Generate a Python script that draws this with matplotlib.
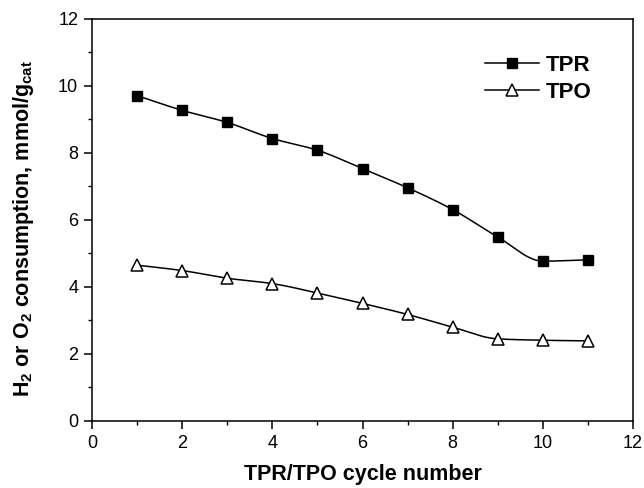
import numpy as np
import matplotlib
matplotlib.use("Agg")
import matplotlib.pyplot as plt
from matplotlib.ticker import MultipleLocator

plt.rcParams['font.family'] = ['Liberation Sans', 'DejaVu Sans']
plt.rcParams['mathtext.fontset'] = 'custom'
plt.rcParams['mathtext.rm'] = 'Liberation Sans:bold'
plt.rcParams['mathtext.it'] = 'Liberation Sans:bold'
plt.rcParams['mathtext.bf'] = 'Liberation Sans:bold'
plt.rcParams['mathtext.default'] = 'rm'

cycles = [1, 2, 3, 4, 5, 6, 7, 8, 9, 10, 11]
tpr = [9.71, 9.27, 8.91, 8.43, 8.08, 7.53, 6.96, 6.31, 5.49, 4.77, 4.81]
tpo = [4.65, 4.49, 4.26, 4.10, 3.82, 3.51, 3.18, 2.80, 2.45, 2.41, 2.39]
x_ticks = [0, 2, 4, 6, 8, 10, 12]
y_ticks = [0, 2, 4, 6, 8, 10, 12]


def pchip_curve(x, y, n=400):
    x = np.asarray(x, float)
    y = np.asarray(y, float)
    h = np.diff(x)
    delta = np.diff(y) / h
    m = len(x)
    d = np.zeros(m)
    for k in range(1, m - 1):
        if delta[k - 1] * delta[k] > 0:
            w1 = 2 * h[k] + h[k - 1]
            w2 = h[k] + 2 * h[k - 1]
            d[k] = (w1 + w2) / (w1 / delta[k - 1] + w2 / delta[k])
    d[0] = delta[0]
    d[-1] = delta[-1]
    xs = np.linspace(x[0], x[-1], n)
    idx = np.clip(np.searchsorted(x, xs) - 1, 0, m - 2)
    t = (xs - x[idx]) / h[idx]
    h00 = 2 * t ** 3 - 3 * t ** 2 + 1
    h10 = t ** 3 - 2 * t ** 2 + t
    h01 = -2 * t ** 3 + 3 * t ** 2
    h11 = t ** 3 - t ** 2
    ys = h00 * y[idx] + h10 * h[idx] * d[idx] + h01 * y[idx + 1] + h11 * h[idx] * d[idx + 1]
    return xs, ys


fig = plt.figure(figsize=(6.44, 4.88), dpi=100)
ax = fig.add_axes([0.1429, 0.1373, 0.840, 0.824])

LW = 1.1
xs, ys = pchip_curve(cycles, tpr)
ax.plot(xs, ys, color='black', lw=LW, zorder=2)
xs, ys = pchip_curve(cycles, tpo)
ax.plot(xs, ys, color='black', lw=LW, zorder=2)
ax.plot(cycles, tpr, ls='none', marker='s', ms=7.3, mfc='black', mec='black', zorder=3)
ax.plot(cycles, tpo, ls='none', marker='^', ms=9, mfc='white', mec='black', mew=1.1, zorder=3)

# legend handles
h1, = ax.plot([], [], color='black', lw=LW, marker='s', ms=7.3, mfc='black', mec='black')
h2, = ax.plot([], [], color='black', lw=LW, marker='^', ms=9, mfc='white', mec='black', mew=1.1)
leg = ax.legend([h1, h2], ['TPR', 'TPO'], loc='upper left', frameon=False,
                prop={'weight': 'bold', 'size': 16}, handlelength=2.4,
                handletextpad=0.3, labelspacing=0.25, borderpad=0, borderaxespad=0,
                bbox_to_anchor=(0.727, 0.91))

ax.set_xlim(0, 12)
ax.set_ylim(0, 12)
ax.set_xticks(x_ticks)
ax.set_yticks(y_ticks)
ax.xaxis.set_minor_locator(MultipleLocator(1))
ax.yaxis.set_minor_locator(MultipleLocator(1))
ax.tick_params(which='major', direction='out', length=6, width=1.1, labelsize=13, pad=4,
               top=False, right=False)
ax.tick_params(which='minor', direction='out', length=3, width=1.0, top=False, right=False)
for s in ax.spines.values():
    s.set_linewidth(1.1)

ax.set_xlabel('TPR/TPO cycle number', fontsize=15.5, fontweight='bold', labelpad=9)
ax.set_ylabel('H$_2$ or O$_2$ consumption, mmol/g$_{cat}$', fontsize=15.5, fontweight='bold')
ax.yaxis.set_label_coords(-0.103, 0.478)

fig.savefig('out.png', dpi=100)
